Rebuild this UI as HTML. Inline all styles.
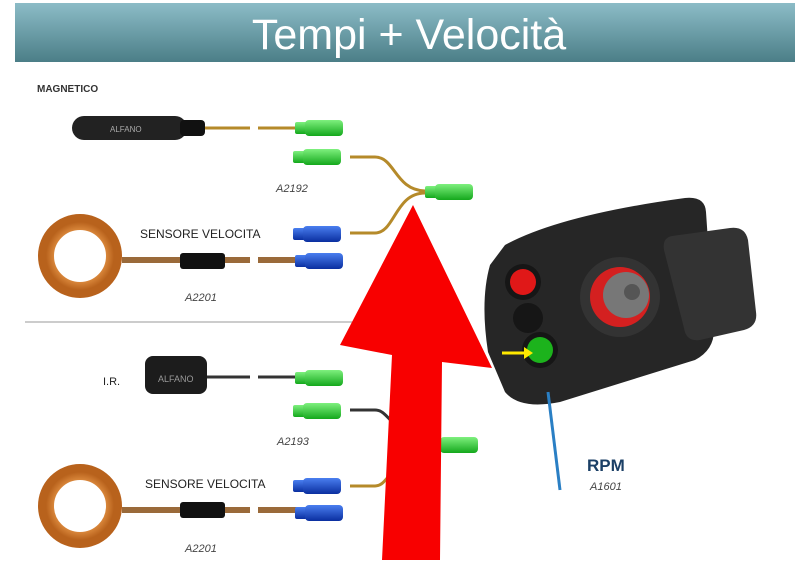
<!DOCTYPE html><html><head><meta charset="utf-8"><style>body{margin:0;background:#fff;width:800px;height:560px;overflow:hidden}</style></head><body>
<svg width="800" height="560" xmlns="http://www.w3.org/2000/svg" font-family="Liberation Sans, sans-serif">
<defs>
<linearGradient id="hg" x1="0" y1="0" x2="0" y2="1"><stop offset="0" stop-color="#8cbcc7"/><stop offset="1" stop-color="#4b7e87"/></linearGradient>
<linearGradient id="gc" x1="0" y1="0" x2="0" y2="1"><stop offset="0" stop-color="#7ef07e"/><stop offset="1" stop-color="#14a81c"/></linearGradient>
<linearGradient id="bc" x1="0" y1="0" x2="0" y2="1"><stop offset="0" stop-color="#4a7ff0"/><stop offset="1" stop-color="#0a2fa0"/></linearGradient>
<radialGradient id="ring"><stop offset="0.6" stop-color="#f0a050"/><stop offset="1" stop-color="#b8621c"/></radialGradient>
<g id="green"><rect x="0" y="2" width="12" height="12" rx="2" fill="url(#gc)"/><rect x="10" y="0" width="38" height="16" rx="4" fill="url(#gc)"/></g>
<g id="blue"><rect x="0" y="2" width="12" height="12" rx="2" fill="url(#bc)"/><rect x="10" y="0" width="38" height="16" rx="4" fill="url(#bc)"/></g>
</defs>
<rect x="15" y="3" width="780" height="59" fill="url(#hg)"/>
<text x="409" y="49" text-anchor="middle" font-size="43" fill="#fff">Tempi + Velocità</text>
<text x="37" y="92" font-size="10" font-weight="bold" fill="#333">MAGNETICO</text>
<line x1="25" y1="322" x2="360" y2="322" stroke="#999"/>
<g fill="none" stroke-width="3">
<path d="M200 128H250M258 128H297" stroke="#b58a2a"/>
<path d="M350 157H375C395 157 395 190 425 191" stroke="#b58a2a"/>
<path d="M350 233H375C395 233 395 193 425 193" stroke="#b58a2a"/>
<path d="M122 260H250M258 260H297" stroke="#9a6a3a" stroke-width="6"/>
<path d="M205 377H250M258 377H297" stroke="#333"/>
<path d="M350 410H375C392 410 388 440 455 445" stroke="#333"/>
<path d="M350 486H375C392 486 388 450 455 446" stroke="#b58a2a"/>
<path d="M122 510H250M258 510H297" stroke="#9a6a3a" stroke-width="6"/>
</g>
<rect x="72" y="116" width="115" height="24" rx="12" fill="#222"/><rect x="180" y="120" width="25" height="16" rx="4" fill="#111"/>
<text x="110" y="132" font-size="8" fill="#aaa">ALFANO</text>
<use href="#green" x="295" y="120"/><use href="#green" x="293" y="149"/><use href="#green" x="425" y="184"/>
<use href="#blue" x="293" y="226"/><use href="#blue" x="295" y="253"/>
<circle cx="80" cy="256" r="34" fill="none" stroke="url(#ring)" stroke-width="16"/>
<rect x="180" y="253" width="45" height="16" rx="3" fill="#111"/>
<text x="140" y="238" font-size="12" fill="#222">SENSORE VELOCITA</text>
<text x="276" y="192" font-size="11" font-style="italic" fill="#444">A2192</text>
<text x="185" y="301" font-size="11" font-style="italic" fill="#444">A2201</text>
<text x="103" y="385" font-size="11" fill="#222">I.R.</text>
<rect x="145" y="356" width="62" height="38" rx="8" fill="#1c1c1c"/><text x="158" y="382" font-size="9" fill="#999">ALFANO</text>
<use href="#green" x="295" y="370"/><use href="#green" x="293" y="403"/><use href="#green" x="430" y="437"/>
<use href="#blue" x="293" y="478"/><use href="#blue" x="295" y="505"/>
<text x="277" y="445" font-size="11" font-style="italic" fill="#444">A2193</text>
<circle cx="80" cy="506" r="34" fill="none" stroke="url(#ring)" stroke-width="16"/>
<rect x="180" y="502" width="45" height="16" rx="3" fill="#111"/>
<text x="145" y="488" font-size="12" fill="#222">SENSORE VELOCITA</text>
<text x="185" y="552" font-size="11" font-style="italic" fill="#444">A2201</text>
<polygon points="413,205 492,368 442,362 440,560 382,560 392,355 340,345" fill="#f80000"/>
<path d="M505 245Q560 215 685 198Q705 196 706 212L714 330Q714 350 695 360L560 402Q520 410 505 392L488 352Q480 300 490 265Z" fill="#262626"/>
<path d="M672 236L730 228Q745 226 748 240L756 312Q758 326 744 330L700 340Q686 342 684 328L664 250Q662 238 672 236Z" fill="#333"/>
<circle cx="620" cy="297" r="40" fill="#333"/><circle cx="620" cy="297" r="30" fill="#d42020"/><circle cx="626" cy="295" r="23" fill="#777"/><circle cx="632" cy="292" r="8" fill="#555"/>
<circle cx="523" cy="282" r="18" fill="#161616"/><circle cx="523" cy="282" r="13" fill="#e01818"/>
<circle cx="528" cy="318" r="15" fill="#161616"/>
<circle cx="540" cy="350" r="18" fill="#161616"/><circle cx="540" cy="350" r="13" fill="#1cb31c"/>
<path d="M502 353H528" stroke="#ffe800" stroke-width="3"/><polygon points="533,353 524,347 524,359" fill="#ffe800"/>
<line x1="548" y1="392" x2="560" y2="490" stroke="#2a7fc4" stroke-width="3"/>
<text x="587" y="471" font-size="17" font-weight="bold" fill="#1b3f66">RPM</text>
<text x="590" y="490" font-size="11" font-style="italic" fill="#444">A1601</text>
</svg></body></html>
